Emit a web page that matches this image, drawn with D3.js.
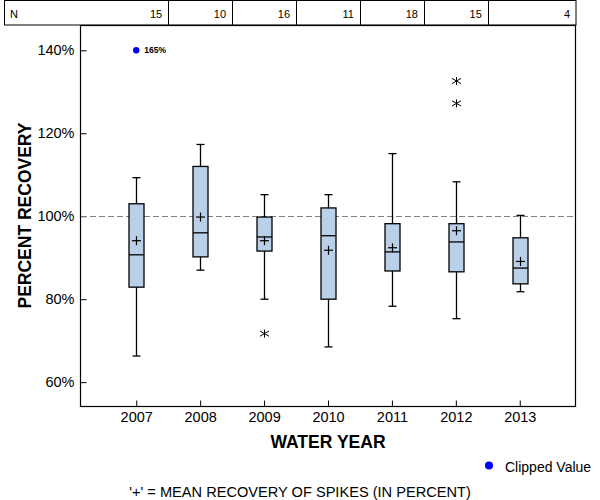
<!DOCTYPE html>
<html>
<head>
<meta charset="utf-8">
<script src="https://cdn.jsdelivr.net/npm/d3@7"></script>
<style>
  html, body { margin: 0; padding: 0; background: #fff; }
  svg { display: block; font-family: "Liberation Sans", Arial, sans-serif; }
</style>
</head>
<body>
<div id="chart"></div>
<script>
// ---- data ----
const years        = ["2007", "2008", "2009", "2010", "2011", "2012", "2013"];
const nCounts      = [15, 10, 16, 11, 18, 15, 4];
const whiskerLow   = [66.3, 87.0, 80.0, 68.5, 78.3, 75.3, 81.8];
const q1           = [82.9, 90.2, 91.6, 80.0, 86.8, 86.6, 83.7];
const medians      = [90.7, 96.0, 95.0, 95.3, 91.4, 93.8, 87.5];
const q3           = [103.0, 112.0, 99.8, 102.0, 98.2, 98.2, 94.8];
const whiskerHigh  = [109.3, 117.3, 105.2, 105.2, 115.1, 108.3, 100.2];
const means        = [94.1, 99.8, 94.1, 91.8, 92.4, 96.5, 89.1];
const outlierYears = ["2009", "2012", "2012"];
const outlierVals  = [71.7, 127.2, 132.6];
const clippedYears = ["2007"];
const clippedVals  = [165];
const clipLimit    = 140;
const yTicks       = [60, 80, 100, 120, 140];
const refValue     = 100;

// ---- layout ----
const W = 600, H = 500;
const pL = 80, pR = 576, pT = 25, pB = 406;
const svg = d3.select("#chart").append("svg").attr("width", W).attr("height", H);

const x = d3.scalePoint().domain(years).range([pL, pR]).padding(0.88);
const y = d3.scaleLinear().domain([54.25, 146.1]).range([pB, pT]);

// N table
const step = x.step();
const tbl = svg.append("g");
tbl.append("rect").attr("x", 4.5).attr("y", 0.5).attr("width", pR - 4.5).attr("height", pT - 0.5)
  .attr("fill", "none").attr("stroke", "#000").attr("stroke-width", 1);
years.slice(0, -1).forEach((yr, i) => {
  const xd = Math.round(x(yr) + step / 2) + 0.5;
  tbl.append("line").attr("x1", xd).attr("x2", xd).attr("y1", 0.5).attr("y2", pT)
    .attr("stroke", "#000");
});
tbl.append("text").attr("x", 10).attr("y", 17.5).attr("font-size", 11).text("N");
years.forEach((yr, i) => {
  const xr = (i < years.length - 1 ? x(yr) + step / 2 : pR) - 6;
  tbl.append("text").attr("x", xr).attr("y", 17.5).attr("font-size", 11)
    .attr("text-anchor", "end").text(nCounts[i]);
});

// frame
svg.append("rect").attr("x", pL + 0.5).attr("y", pT + 0.5)
  .attr("width", pR - pL - 1).attr("height", pB - pT)
  .attr("fill", "none").attr("stroke", "#000").attr("stroke-width", 1.2);

// axes
const yAxis = svg.append("g").attr("transform", `translate(${pL + 0.5},0)`)
  .call(d3.axisLeft(y).tickValues(yTicks).tickSizeInner(-6).tickSizeOuter(0)
    .tickPadding(6).tickFormat(d => d + "%"));
yAxis.select(".domain").remove();
yAxis.selectAll("text").attr("font-size", 14.5).attr("fill", "#000").style("font-family", "'Liberation Sans', Arial, sans-serif");
yAxis.selectAll("line").attr("stroke", "#000");

const xAxis = svg.append("g").attr("transform", `translate(0,${pB + 0.5})`)
  .call(d3.axisBottom(x).tickSizeInner(-6).tickSizeOuter(0).tickPadding(5));
xAxis.select(".domain").remove();
xAxis.selectAll("text").attr("font-size", 14.5).attr("fill", "#000").style("font-family", "'Liberation Sans', Arial, sans-serif");
xAxis.selectAll("line").attr("stroke", "#000");

// reference line
svg.append("line").attr("x1", pL + 1).attr("x2", pR - 1)
  .attr("y1", Math.round(y(refValue)) + 0.5).attr("y2", Math.round(y(refValue)) + 0.5)
  .attr("stroke", "#808080").attr("stroke-width", 1).attr("stroke-dasharray", "6,3");

// boxes
const boxW = 15, capW = 8, crossW = 9;
const g = svg.append("g").attr("stroke", "#000").attr("stroke-width", 1.3);
years.forEach((yr, i) => {
  const cx = Math.round(x(yr)) + 0.5;
  g.append("line").attr("x1", cx).attr("x2", cx).attr("y1", y(whiskerHigh[i])).attr("y2", y(q3[i]));
  g.append("line").attr("x1", cx).attr("x2", cx).attr("y1", y(q1[i])).attr("y2", y(whiskerLow[i]));
  g.append("line").attr("x1", cx - capW / 2).attr("x2", cx + capW / 2).attr("y1", y(whiskerHigh[i])).attr("y2", y(whiskerHigh[i]));
  g.append("line").attr("x1", cx - capW / 2).attr("x2", cx + capW / 2).attr("y1", y(whiskerLow[i])).attr("y2", y(whiskerLow[i]));
  g.append("rect").attr("x", cx - boxW / 2).attr("y", y(q3[i]))
    .attr("width", boxW).attr("height", y(q1[i]) - y(q3[i])).attr("fill", "#b9d0e8");
  g.append("line").attr("x1", cx - boxW / 2).attr("x2", cx + boxW / 2).attr("y1", y(medians[i])).attr("y2", y(medians[i]));
  const my = y(means[i]);
  g.append("line").attr("x1", cx - crossW / 2).attr("x2", cx + crossW / 2).attr("y1", my).attr("y2", my).attr("stroke-width", 1.2);
  g.append("line").attr("x1", cx).attr("x2", cx).attr("y1", my - crossW / 2).attr("y2", my + crossW / 2).attr("stroke-width", 1.2);
});

// outliers (asterisks)
outlierYears.forEach((yr, i) => {
  const cx = Math.round(x(yr)) + 0.5, cy = y(outlierVals[i]);
  const p = `M${cx - 4.5},${cy - 2.6}L${cx + 4.5},${cy + 2.6}M${cx - 4.5},${cy + 2.6}L${cx + 4.5},${cy - 2.6}M${cx},${cy - 4}L${cx},${cy + 4}`;
  svg.append("path").attr("d", p).attr("stroke", "#000").attr("stroke-width", 1).attr("fill", "none");
});

// clipped values
clippedYears.forEach((yr, i) => {
  const cx = x(yr), cy = y(clipLimit);
  svg.append("circle").attr("cx", cx).attr("cy", cy).attr("r", 3.2).attr("fill", "#0000ff");
  svg.append("text").attr("x", cx + 8).attr("y", cy + 3).attr("font-size", 8.5)
    .attr("font-weight", "bold").attr("fill", "#000").text(clippedVals[i] + "%");
});

// axis titles
svg.append("text").attr("transform", `translate(31,${(pT + pB) / 2}) rotate(-90)`)
  .attr("text-anchor", "middle").attr("font-size", 17.5).attr("font-weight", "bold").text("PERCENT RECOVERY");
svg.append("text").attr("x", (pL + pR) / 2).attr("y", 448)
  .attr("text-anchor", "middle").attr("font-size", 17.5).attr("font-weight", "bold").text("WATER YEAR");

// legend
svg.append("circle").attr("cx", 489).attr("cy", 465.5).attr("r", 4).attr("fill", "#0000ff");
svg.append("text").attr("x", 505).attr("y", 472).attr("font-size", 14).text("Clipped Value");

// footnote
svg.append("text").attr("x", 300).attr("y", 497).attr("text-anchor", "middle")
  .attr("font-size", 14.6).text("'+' = MEAN RECOVERY OF SPIKES (IN PERCENT)");
</script>
</body>
</html>
